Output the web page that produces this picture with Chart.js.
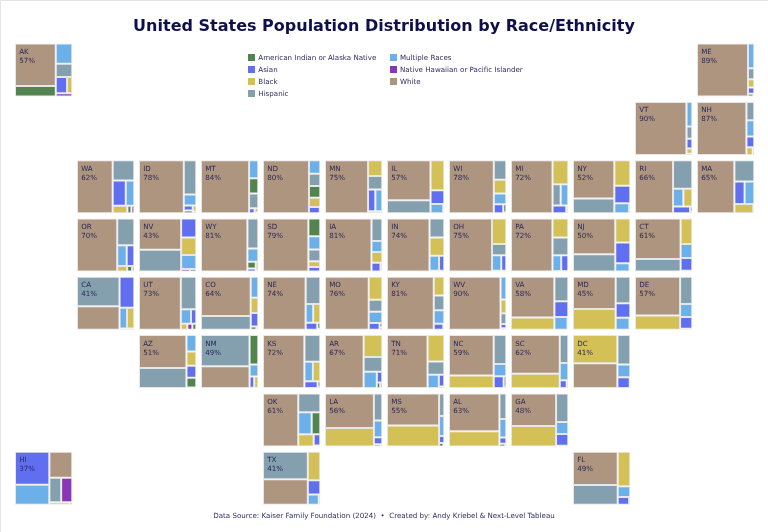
<!DOCTYPE html>
<html>
<head>
<meta charset="utf-8">
<title>United States Population Distribution by Race/Ethnicity</title>
<script src="https://cdn.jsdelivr.net/npm/chart.js@4"></script>
<style>
  html, body { margin: 0; padding: 0; background: #fff; }
  #wrap { position: relative; width: 768px; height: 532px; overflow: hidden; font-family: "DejaVu Sans", sans-serif; }
  #wrap:after { content: ""; position: absolute; left: 0; top: 0; right: 0; bottom: 0; border-top: 1px solid #e4e4e4; border-left: 1px solid #e4e4e4; pointer-events: none; }
  #myChart { position: absolute; left: 0; top: 0; }
  .key { position: absolute; font-size: 7.1px; line-height: 9px; color: #2e2e60; white-space: nowrap; padding-left: 10px; }
  .key i { position: absolute; left: 0; top: 1px; width: 7px; height: 7px; }
</style>
</head>
<body>
<div id="wrap">
  <canvas id="myChart" width="768" height="532"></canvas>
</div>
<script>
// tile map, one string per row, a dot is an empty column
const mapRows = [
  'AK . . . . . . . . . . ME',
  '. . . . . . . . . . VT NH',
  '. WA ID MT ND MN IL WI MI NY RI MA',
  '. OR NV WY SD IA IN OH PA NJ CT .',
  '. CA UT CO NE MO KY WV VA MD DE .',
  '. . AZ NM KS AR TN NC SC DC . .',
  '. . . . OK LA MS AL GA . . .',
  'HI . . . TX . . . . FL . .'
];

const states = ['AK','ME','VT','NH','WA','ID','MT','ND','MN','IL','WI','MI','NY','RI','MA','OR','NV','WY','SD','IA','IN','OH','PA','NJ','CT','CA','UT','CO','NE','MO','KY','WV','VA','MD','DE','AZ','NM','KS','AR','TN','NC','SC','DC','OK','LA','MS','AL','GA','HI','TX','FL'];

const races = ['American Indian or Alaska Native', 'Asian', 'Black', 'Hispanic', 'Multiple Races', 'Native Hawaiian or Pacific Islander', 'White'];

// percent of population, same order as states
const aian = [14.2,.5,.2,.3,1,.8,4.6,4.4,.8,.2,.8,.4,.3,.4,.2,.9,.5,1.9,7,.3,.2,.2,.1,.1,.2,.3,.8,.6,.6,.4,.1,.2,.2,.2,.3,3.1,8.3,.5,.6,.2,.9,.3,.1,6.2,.5,.5,.5,.2,.2,.3,.2];
const asian = [6,1.3,1.9,2.8,10.8,1.5,.9,2.2,5.2,6.2,2.8,3.4,9.2,3.7,7.5,5.2,9.4,.8,1.7,2.6,2.6,2.6,3.7,10.3,4.9,15,2.5,3.4,2.7,2.4,1.9,.8,7.2,7,4.7,3.9,1.7,3,1.9,2.1,3.9,1.8,4.4,2.4,1.9,1.2,1.4,4.7,37,5.8,2.9];
const black = [2.8,1.7,1,1.6,3.6,.7,.5,3.4,7.4,13.5,5.6,12.4,13.5,5.2,5.8,1.8,8.7,.7,2.2,3.8,8.9,12,9.9,12,9.8,5,1.3,3.8,4.4,10.2,6.4,2.6,17.5,29,21,4.5,1.5,4.7,13.3,14.6,18.5,23,41,6.1,29.5,35.5,25,30,1.6,11.8,14.3];
const hispanic = [7.2,2.3,2.3,4.8,14.4,14,4.5,4.6,6.3,18.3,8,5.7,20,18,14,15,30,10.8,4.6,8,9.2,5.3,9.2,24,18.6,41,16.5,22.7,13,5.3,5.1,2,11.2,12.6,10.8,31,49,14,9.1,7.3,11.9,7.8,12.4,13.6,7.5,3.9,5.8,11.4,9.5,41,29];
const multiple = [11,5.1,4.7,4.3,7,4.5,5.5,5,5,3.8,4.4,5.3,4.8,6,7.1,6.5,7,4.8,5.2,3.9,4.7,4.7,4.5,3.9,5.4,5.1,4.8,5.2,4.6,5,4.6,4.3,5.6,5.4,5.2,5.3,3.4,5.4,7,5,5,4.8,5.4,9.7,4.7,3.4,4.2,4.8,22.5,3.7,4.4];
const nhpi = [1.8,.1,0,.1,.7,.2,.1,.1,.1,.1,.1,.1,.1,.1,.1,.4,.7,.1,.1,.2,.1,.1,.1,.1,.1,.3,1,.2,.1,.2,.1,.1,.1,.1,.1,.2,.1,.1,.4,.1,.1,.1,.1,.2,.1,.1,.1,.1,9,.2,.1];
const white = [57,89,90,87,62,78,84,80,75,57,78,72,52,66,65,70,43,81,79,81,74,75,72,50,61,33,73,64,74,76,81,90,58,45,57,51,34.5,72,67,71,59,62,36,61,56,55,63,48,19.5,37.5,49];

const series = [aian, asian, black, hispanic, multiple, nhpi, white];
const colors = ['#53844f', '#606ff0', '#d3c056', '#849fae', '#6bb0e8', '#8a37b5', '#ae9580'];

const NAVY = '#0f0f4d';
const TILE_W = 57.3, TILE_H = 53, STEP_X = 62, STEP_Y = 58.3, LEFT = 15, TOP = 43.6;
const TITLE_BOX = 40.4, FOOTER_BOX = 23;
const PAIR_SLACK = 2.5; // a lone cell takes a partner more easily than plain squarify does

// squarified treemap of one tile, returns rectangles in page units
function squarify(values, x, y, w, h) {
  const total = values.reduce((a, b) => a + b, 0);
  const items = values
    .map((v, i) => ({ i: i, area: v / total * w * h }))
    .filter(d => d.area > 0)
    .sort((a, b) => b.area - a.area);
  const out = [];
  const worst = (row, side) => {
    const s = row.reduce((a, d) => a + d.area, 0);
    const max = Math.max(...row.map(d => d.area));
    const min = Math.min(...row.map(d => d.area));
    return Math.max(side * side * max / (s * s), s * s / (side * side * min));
  };
  while (items.length) {
    const side = Math.min(w, h);
    const row = [items.shift()];
    while (items.length) {
      const slack = row.length === 1 ? PAIR_SLACK : 1;
      if (worst(row.concat(items[0]), side) > worst(row, side) * slack) break;
      row.push(items.shift());
    }
    const s = row.reduce((a, d) => a + d.area, 0);
    if (w >= h) {
      const cw = s / h;
      let cy = y;
      row.forEach(d => { out.push({ i: d.i, x0: x, x1: x + cw, y0: cy, y1: cy + d.area / cw }); cy += d.area / cw; });
      x += cw; w -= cw;
    } else {
      const rh = s / w;
      let cx = x;
      row.forEach(d => { out.push({ i: d.i, x0: cx, x1: cx + d.area / rh, y0: y, y1: y + rh }); cx += d.area / rh; });
      y += rh; h -= rh;
    }
  }
  return out;
}

// where each state sits on the grid
const tiles = {};
mapRows.forEach((line, r) => {
  line.split(' ').forEach((code, c) => {
    if (code !== '.') tiles[code] = { x: LEFT + c * STEP_X, y: TOP + r * STEP_Y };
  });
});

const cells = races.map(() => []);
states.forEach((st, s) => {
  const t = tiles[st];
  squarify(series.map(v => v[s]), t.x, t.y, TILE_W, TILE_H).forEach(c => {
    cells[c.i].push({ x: (c.x0 + c.x1) / 2, y: [c.y0, c.y1], x0: c.x0, x1: c.x1 });
  });
});

// bar controller whose bars take their width from the data
class TileController extends Chart.BarController {
  _calculateBarIndexPixels(index, ruler) {
    const d = this.getDataset().data[index];
    const a = ruler.scale.getPixelForValue(d.x0);
    const b = ruler.scale.getPixelForValue(d.x1);
    return { base: a, head: b, center: (a + b) / 2, size: b - a };
  }
}
TileController.id = 'tile';
TileController.defaults = Chart.BarController.defaults;
TileController.overrides = Chart.BarController.overrides;
Chart.register(TileController);

// state code and largest share, top left of each tile
const tileLabels = {
  id: 'tileLabels',
  afterDatasetsDraw(chart) {
    const ctx = chart.ctx;
    const sx = chart.scales.x, sy = chart.scales.y;
    ctx.save();
    ctx.font = '7.1px "DejaVu Sans"';
    ctx.fillStyle = '#2a2858';
    ctx.textBaseline = 'middle';
    states.forEach((st, s) => {
      const t = tiles[st];
      const top = Math.max(...series.map(v => v[s]));
      ctx.fillText(st, sx.getPixelForValue(t.x + 4.2), sy.getPixelForValue(t.y + 8.6));
      ctx.fillText(Math.round(top) + '%', sx.getPixelForValue(t.x + 4.2), sy.getPixelForValue(t.y + 17.6));
    });
    ctx.restore();
  }
};

Chart.defaults.font.family = '"DejaVu Sans", sans-serif';

new Chart(document.getElementById('myChart').getContext('2d'), {
  type: 'tile',
  data: {
    datasets: races.map((name, i) => ({
      label: name,
      data: cells[i],
      backgroundColor: colors[i],
      borderColor: '#e6e6e6',
      borderWidth: 1,
      borderSkipped: false,
      grouped: false
    }))
  },
  options: {
    responsive: false,
    animation: false,
    layout: { padding: 0 },
    scales: {
      x: { type: 'linear', display: false, offset: false, min: 0, max: 768 },
      y: { type: 'linear', display: false, reverse: true, min: TITLE_BOX, max: 532 - FOOTER_BOX, beginAtZero: false }
    },
    plugins: {
      legend: { display: false },
      tooltip: { enabled: false },
      title: {
        display: true,
        text: 'United States Population Distribution by Race/Ethnicity',
        color: NAVY,
        font: { size: 16, weight: 'bold' },
        padding: { top: 17, bottom: 4.2 }
      },
      subtitle: {
        display: true,
        position: 'bottom',
        text: 'Data Source: Kaiser Family Foundation (2024)  \u2022  Created by: Andy Kriebel & Next-Level Tableau',
        color: '#2e2e60',
        font: { size: 7.1 },
        padding: { top: 2.5, bottom: 12 }
      }
    }
  },
  plugins: [tileLabels]
});

// legend, two columns filled top to bottom
const wrap = document.getElementById('wrap');
races.forEach((name, i) => {
  const el = document.createElement('div');
  el.className = 'key';
  el.style.left = (i < 4 ? 248.3 : 390) + 'px';
  el.style.top = (53 + (i % 4) * 11.9) + 'px';
  el.innerHTML = '<i style="background:' + colors[i] + '"></i>' + name;
  wrap.appendChild(el);
});
</script>
</body>
</html>
